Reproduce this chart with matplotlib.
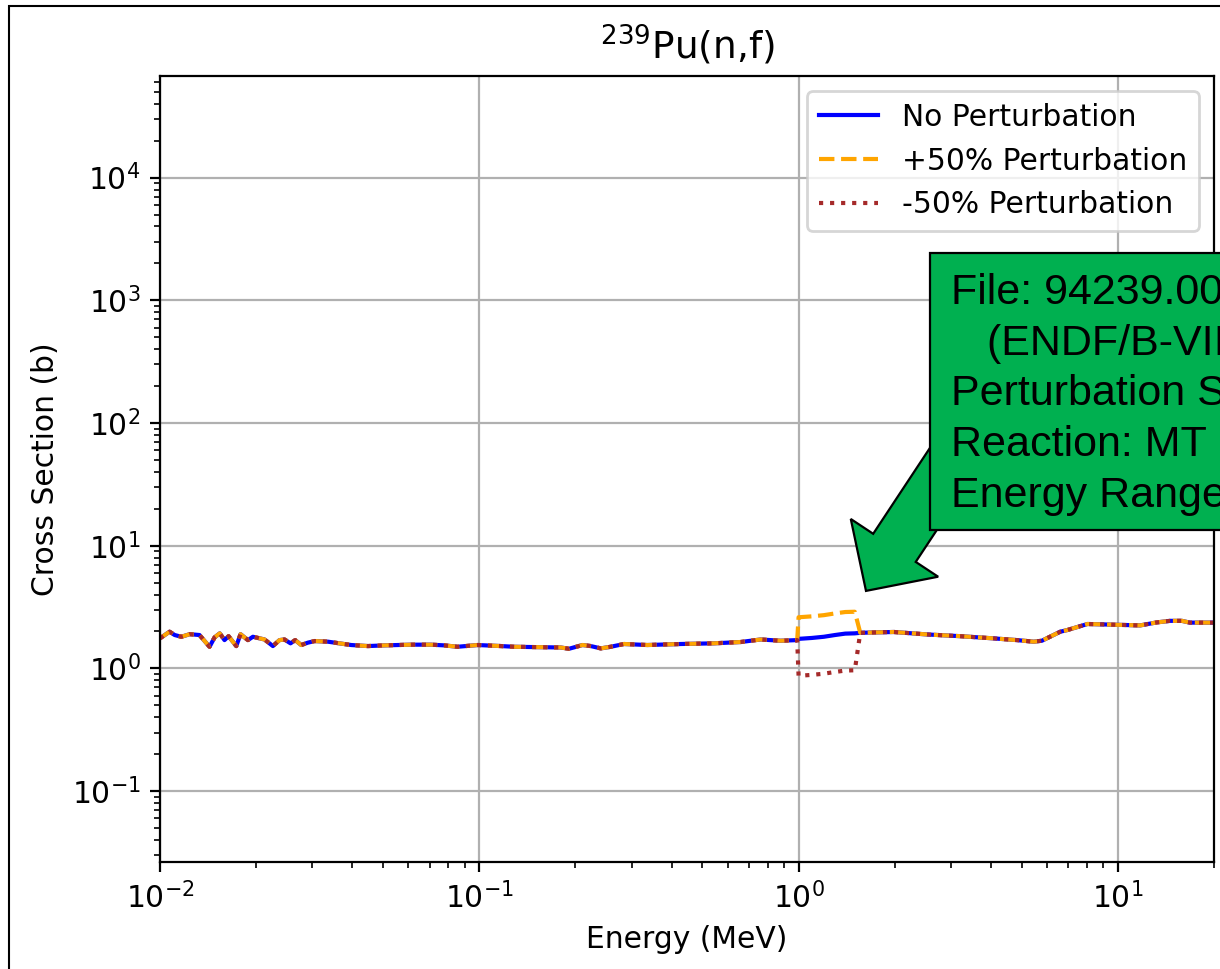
import numpy as np
import matplotlib.pyplot as plt
import matplotlib.patches as mpatches

### Evaluated 239Pu fission cross section (MeV, barns) ###
energy = [0.0100, 0.01072, 0.01112, 0.01167, 0.0124, 0.0133, 0.0143, 0.01483,
          0.01539, 0.01593, 0.0164, 0.01734, 0.01788, 0.01886, 0.01955, 0.02126,
          0.02258, 0.02368, 0.02455, 0.02564, 0.02652, 0.0277, 0.02905, 0.0305,
          0.0336, 0.0397, 0.0448, 0.0505, 0.0611, 0.0706, 0.0777, 0.0855,
          0.0989, 0.117, 0.1287, 0.180, 0.191, 0.2106, 0.2235, 0.2402,
          0.258, 0.284, 0.336, 0.4276, 0.543, 0.659, 0.7605, 0.878,
          0.99, 1.0, 1.1, 1.2, 1.3, 1.4, 1.5, 1.56,
          1.987, 2.527, 3.21, 4.08, 4.83, 5.45, 5.78, 6.60,
          6.93, 8.03, 11.74, 13.24, 14.57, 15.86, 16.8, 20.0]
xs_base = [1.756, 1.99, 1.87, 1.81, 1.90, 1.87, 1.50, 1.79,
           1.93, 1.70, 1.83, 1.52, 1.90, 1.70, 1.81, 1.72,
           1.52, 1.70, 1.72, 1.60, 1.70, 1.55, 1.62, 1.67,
           1.65, 1.55, 1.52, 1.54, 1.56, 1.56, 1.54, 1.50,
           1.55, 1.52, 1.50, 1.48, 1.445, 1.55, 1.52, 1.455,
           1.50, 1.58, 1.55, 1.58, 1.60, 1.64, 1.72, 1.68,
           1.70, 1.74, 1.77, 1.81, 1.87, 1.92, 1.93, 1.95,
           1.98, 1.89, 1.83, 1.756, 1.70, 1.65, 1.68, 1.99,
           2.05, 2.30, 2.24, 2.37, 2.44, 2.44, 2.36, 2.36]

# perturbation window and size
pert_lo, pert_hi = 1.0, 1.5     # MeV
pert_frac = 0.5

notes = ["File: 94239.00c",
         "   (ENDF/B-VIII.0)",
         "Perturbation Scale: \u00b150%",
         "Reaction: MT 18",
         "Energy Range: 1.0 - 1.5 MeV"]

### Perturbed sets ###
e = np.array(energy)
base = np.array(xs_base)
window = (e >= pert_lo) & (e <= pert_hi)
xs_plus = np.where(window, base * (1 + pert_frac), base)
xs_minus = np.where(window, base * (1 - pert_frac), base)

### Plot ###
plt.rcParams["font.size"] = 10.7
fig = plt.figure(figsize=(6.1, 4.845), dpi=200)
ax = fig.add_axes([0.1311, 0.1104, 0.8640, 0.8112])

ax.plot(e, base, color="blue", label="No Perturbation")
ax.plot(e, xs_plus, color="orange", linestyle="--", label="+50% Perturbation")
ax.plot(e, xs_minus, color="brown", linestyle=":", label="-50% Perturbation")

ax.set_xscale("log")
ax.set_yscale("log")
ax.set_xlim(0.01, 20)
ax.set_ylim(0.0264, 67400)
ax.grid(True)
ax.set_xlabel("Energy (MeV)")
ax.set_ylabel("Cross Section (b)")
ax.set_title(r"$^{239}$Pu(n,f)", fontsize=13.5)
ax.legend(loc="upper right")

# callout arrow + box (inch coordinates)
arrow = mpatches.FancyArrow(4.756, 2.535, -0.426, -0.6445, width=0.255,
                            head_width=0.5235, head_length=0.258,
                            length_includes_head=True, facecolor="#00b050",
                            edgecolor="black", linewidth=0.8,
                            transform=fig.dpi_scale_trans, zorder=5)
fig.add_artist(arrow)
box = mpatches.Rectangle((4.65, 2.195), 3.0, 1.385, facecolor="#00b050",
                         edgecolor="black", linewidth=0.8,
                         transform=fig.dpi_scale_trans, zorder=6)
fig.add_artist(box)
for i, line in enumerate(notes):
    fig.text(4.755, (969 - 304 - 50.7 * i) / 200, line, fontsize=15.5,
             family="Liberation Sans", va="baseline", ha="left",
             transform=fig.dpi_scale_trans, zorder=7)

# picture outline
frame = mpatches.Rectangle((9 / 1220, -0.5), 2.0, 0.5 + (1 - 6 / 969),
                           fill=False, edgecolor="black", linewidth=0.75,
                           transform=fig.transFigure, zorder=8)
fig.add_artist(frame)

plt.savefig("out.png", dpi=200)
